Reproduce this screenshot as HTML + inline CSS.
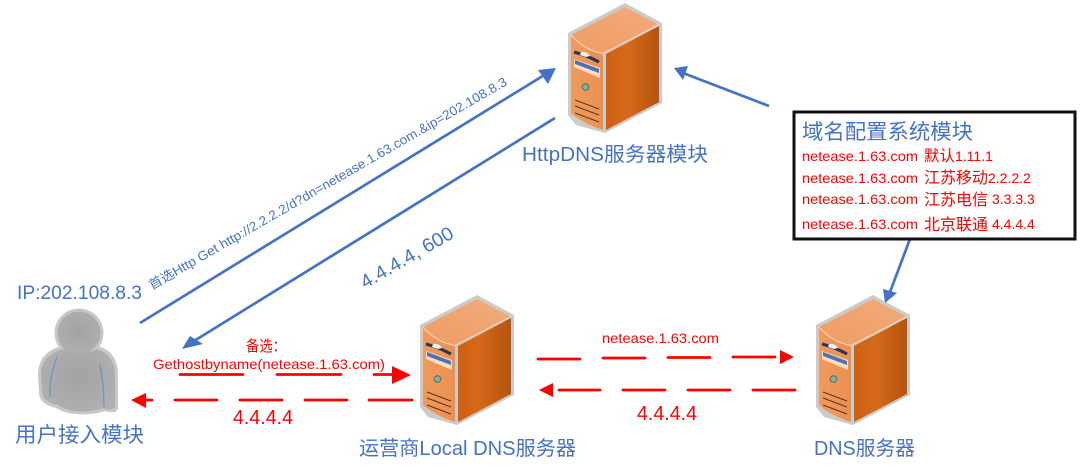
<!DOCTYPE html>
<html><head><meta charset="utf-8"><style>
html,body{margin:0;padding:0;background:#fff}
svg{display:block}
text{font-family:"Liberation Sans","Noto Sans CJK SC",sans-serif}
.b{fill:#4472c4}.r{fill:#f00}
.bl{stroke:#4472c4;stroke-width:2.700;fill:none}
.rl{stroke:#f00;stroke-width:2.800;fill:none;stroke-linecap:round}
</style></head><body>
<svg width="1080" height="470" viewBox="0 0 1080 470" xmlns="http://www.w3.org/2000/svg">
<defs>
<linearGradient id="front" x1="0" y1="0" x2="1" y2="0"><stop offset="0" stop-color="#f09a5e"/><stop offset="1" stop-color="#ec9050"/></linearGradient>
<linearGradient id="side" x1="0" y1="0" x2="1" y2="0"><stop offset="0" stop-color="#cf6012"/><stop offset="0.4" stop-color="#d5691a"/><stop offset="1" stop-color="#b5540e"/></linearGradient>
<linearGradient id="top" x1="0" y1="1" x2="1" y2="0"><stop offset="0" stop-color="#ee9c62"/><stop offset="1" stop-color="#f2ab7c"/></linearGradient>
<radialGradient id="person" cx="0.5" cy="0.45" r="0.6"><stop offset="0" stop-color="#a2a2a2"/><stop offset="1" stop-color="#b0b0b0"/></radialGradient>
<g id="srv">
<path d="M0 30 L57 0 L94 20 L94 100 L37 130 L8 122 L0 112 Z" fill="#cbcbc9"/>
<path d="M3 32 L57 4 L91 22 L36 51 Q16 48 3 32Z" fill="url(#top)"/>
<path d="M3 32 Q16 48 35 51 L35 127 Q14 120 3 110Z" fill="url(#front)"/>
<path d="M38 51 L91 23 L91 99 L38 127Z" fill="url(#side)"/>
<path d="M3 32 Q16 47 35 50.500 L91 21.500" fill="none" stroke="#f6d7bf" stroke-width="1"/>
<path d="M6 49 Q18 52 31 59" stroke="#23365f" stroke-width="3" fill="none"/>
<path d="M13 49 q6 -1 9 4 l-4 1 -6 -2z" fill="#eef2f6"/>
<path d="M6 56 L32 65 L32 75 L6 64Z" fill="#f7dcc6"/>
<path d="M7 57 L31 66 L31 70 L7 61Z" fill="#4f72ad"/>
<circle cx="17.500" cy="84" r="3.300" fill="#7fb59a" stroke="#4d6e5f" stroke-width="1"/>
<path d="M7 97 L31 106 M7 103 L31 112 M7 110 L31 119" stroke="#5a3820" stroke-width="1.200" fill="none"/>
</g>
</defs>

<use href="#srv" x="568" y="3"/>
<use href="#srv" x="420" y="295"/>
<use href="#srv" x="816" y="295"/>

<!-- person -->
<g>
<path d="M38 375 C38 358 48 349 63 346 C70 352 88 352 98 346 C112 350 118 360 118 375 L118 408 C118 413 110 413 105 411 C92 416 68 416 56 408 C44 405 39 400 39 392Z" fill="#c8c8c8"/>
<circle cx="79" cy="333" r="24.500" fill="#c8c8c8"/>
<path d="M41 375 C41 360 50 352 64 349 C72 354 88 354 97 349 C109 353 115 362 115 375 L115 405 C115 410 108 410 103 408 C90 413 69 413 58 405 C47 403 42 398 42 391Z" fill="url(#person)"/>
<circle cx="79" cy="333" r="21.500" fill="url(#person)"/>
<path d="M57 357 C52 370 49 385 50 397 M100 365 C103 380 104 395 104 407" stroke="#6f8fc8" stroke-width="1.200" fill="none"/>
</g>

<!-- blue connectors -->
<path class="bl" d="M140 323 L546 74"/>
<path fill="#4472c4" d="M556 68 L538 70 L548 84Z"/>
<path class="bl" d="M555 118 L194 341"/>
<path fill="#4472c4" d="M182 349 L190 336 L203 344Z"/>
<path class="bl" d="M769 106 L683 73"/>
<path fill="#4472c4" d="M674 68 L688 66 L683 80Z"/>
<path class="bl" d="M910 239 L890 292"/>
<path fill="#4472c4" d="M885 303 L883 289 L897 293Z"/>

<!-- red connectors -->
<path class="rl" d="M180 374.500 H243 M277 374.500 H341 M374 374.500 H393"/>
<path fill="#f00" d="M411 375 L392 366 L392 384Z"/>
<path class="rl" d="M175 400 H217 M240 400 H282 M305 400 H347 M369 400 H412"/>
<path fill="#f00" d="M131 400 L146 393 L146 408Z"/>
<path class="rl" d="M140 400 H152"/>
<path class="rl" d="M538 359 H580 M603 358 H645 M668 357.500 H710 M733 357 H775"/>
<path fill="#f00" d="M794 357 L780 350 L780 364Z"/>
<path class="rl" d="M559 390 H600 M623 390 H665 M688 390 H730 M753 390 H795"/>
<path fill="#f00" d="M539 390 L553 383 L553 397Z"/>

<!-- box -->
<rect x="794" y="112" width="281" height="127" fill="#fff" stroke="#111" stroke-width="3"/>
<text class="b" x="802" y="139" font-size="21" textLength="171" lengthAdjust="spacingAndGlyphs">域名配置系统模块</text>
<text class="r" x="802" y="161" font-size="14" textLength="116" lengthAdjust="spacingAndGlyphs">netease.1.63.com</text>
<text class="r" x="924" y="161" font-size="15.500">默认</text>
<text class="r" x="955" y="161" font-size="14">1.11.1</text>
<text class="r" x="802" y="183" font-size="14" textLength="116" lengthAdjust="spacingAndGlyphs">netease.1.63.com</text>
<text class="r" x="924" y="183" font-size="16">江苏移动</text>
<text class="r" x="988" y="183" font-size="14">2.2.2.2</text>
<text class="r" x="802" y="204" font-size="14" textLength="116" lengthAdjust="spacingAndGlyphs">netease.1.63.com</text>
<text class="r" x="924" y="205" font-size="16">江苏电信</text>
<text class="r" x="992" y="204" font-size="14">3.3.3.3</text>
<text class="r" x="802" y="229" font-size="14" textLength="116" lengthAdjust="spacingAndGlyphs">netease.1.63.com</text>
<text class="r" x="924" y="230" font-size="16">北京联通</text>
<text class="r" x="992" y="229" font-size="14">4.4.4.4</text>

<!-- labels -->
<text class="b" x="17" y="299" font-size="19" textLength="125" lengthAdjust="spacingAndGlyphs">IP:202.108.8.3</text>
<text class="b" x="15" y="442" font-size="21" textLength="129" lengthAdjust="spacingAndGlyphs">用户接入模块</text>
<text class="b" x="522" y="161" font-size="20" textLength="186" lengthAdjust="spacingAndGlyphs">HttpDNS服务器模块</text>
<text class="b" x="359" y="455" font-size="20" textLength="217" lengthAdjust="spacingAndGlyphs">运营商Local DNS服务器</text>
<text class="b" x="814" y="455" font-size="20" textLength="101" lengthAdjust="spacingAndGlyphs">DNS服务器</text>
<text class="b" font-size="13" transform="translate(152,290) rotate(-30)" textLength="411" lengthAdjust="spacingAndGlyphs">首选Http Get http://2.2.2.2/d?dn=netease.1.63.com.&amp;ip=202.108.8.3</text>
<text class="b" font-size="19" transform="translate(365,289) rotate(-30)" textLength="104" lengthAdjust="spacingAndGlyphs">4.4.4.4, 600</text>
<text class="r" x="246" y="351" font-size="15" textLength="40" lengthAdjust="spacingAndGlyphs">备选：</text>
<text class="r" x="153" y="369" font-size="14" textLength="232" lengthAdjust="spacingAndGlyphs">Gethostbyname(netease.1.63.com)</text>
<text class="r" x="233" y="424" font-size="20" textLength="60" lengthAdjust="spacingAndGlyphs">4.4.4.4</text>
<text class="r" x="602" y="343" font-size="14" textLength="117" lengthAdjust="spacingAndGlyphs">netease.1.63.com</text>
<text class="r" x="637" y="420" font-size="20" textLength="60" lengthAdjust="spacingAndGlyphs">4.4.4.4</text>
</svg>
</body></html>
